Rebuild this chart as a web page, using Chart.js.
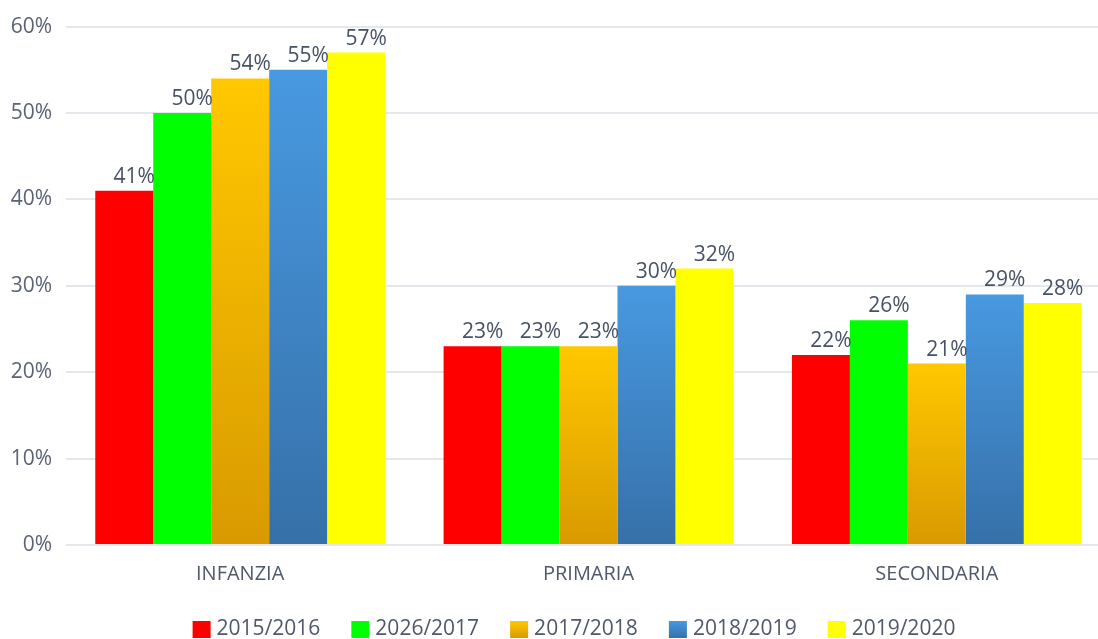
<!DOCTYPE html>
<html>
<head>
<meta charset="utf-8">
<script src="https://cdn.jsdelivr.net/npm/chart.js@4/dist/chart.umd.min.js"></script>
<style>
  html, body { margin: 0; padding: 0; background: #fff; overflow: hidden; }
  #wrap { width: 1111px; height: 639px; }
</style>
</head>
<body>
<div id="wrap"><canvas id="c" width="1111" height="639"></canvas></div>
<script>
const categories = ["INFANZIA", "PRIMARIA", "SECONDARIA"];
const seriesNames = ["2015/2016", "2026/2017", "2017/2018", "2018/2019", "2019/2020"];
const s2015 = [41, 23, 22];
const s2016 = [50, 23, 26];
const s2017 = [54, 23, 21];
const s2018 = [55, 30, 29];
const s2019 = [57, 32, 28];
const yTicks = [0, 10, 20, 30, 40, 50, 60];

const FONT = "'Open Sans', 'Noto Sans', sans-serif";
const topColors = ["#ff0000", "#00ff00", "#ffc800", "#4899e1", "#ffff00"];
const botColors = ["#ff0000", "#00ff00", "#d89a00", "#3670a8", "#ffff00"];

function barFill(i) {
  return function (ctx) {
    if (topColors[i] === botColors[i]) return topColors[i];
    const chart = ctx.chart;
    const y = chart.scales && chart.scales.y;
    if (!y || ctx.type !== 'data' || ctx.raw == null) return topColors[i];
    const yTop = y.getPixelForValue(ctx.raw);
    const yBot = y.getPixelForValue(0);
    if (!isFinite(yTop) || !isFinite(yBot) || yTop === yBot) return topColors[i];
    const g = chart.ctx.createLinearGradient(0, yTop, 0, yBot);
    g.addColorStop(0, topColors[i]);
    g.addColorStop(1, botColors[i]);
    return g;
  };
}

const dataArrays = [s2015, s2016, s2017, s2018, s2019];
const datasets = dataArrays.map((d, i) => ({
  label: seriesNames[i],
  data: d,
  backgroundColor: barFill(i),
  borderWidth: 0,
  categoryPercentage: 0.832,
  barPercentage: 1.0
}));

const valueLabels = {
  id: 'valueLabels',
  afterDatasetsDraw(chart) {
    const ctx = chart.ctx;
    ctx.save();
    ctx.font = "21px " + FONT;
    ctx.fillStyle = "#475264";
    ctx.textAlign = "center";
    ctx.textBaseline = "alphabetic";
    chart.data.datasets.forEach((ds, di) => {
      const meta = chart.getDatasetMeta(di);
      meta.data.forEach((bar, j) => {
        ctx.fillText(ds.data[j] + "%", bar.x + 10, bar.y - 8);
      });
    });
    ctx.restore();
  }
};

const bottomLegend = {
  id: 'bottomLegend',
  afterDraw(chart) {
    const ctx = chart.ctx;
    ctx.save();
    ctx.font = "21px " + FONT;
    const boxW = 18, boxH = 17, gapText = 6, gapItem = 31;
    const widths = seriesNames.map(n => ctx.measureText(n).width);
    let total = 0;
    widths.forEach((w, i) => { total += boxW + gapText + w + (i < widths.length - 1 ? gapItem : 0); });
    let x = 574 - total / 2;
    const cy = 629;
    seriesNames.forEach((name, i) => {
      const top = cy - boxH / 2 + 0.5;
      const g = ctx.createLinearGradient(0, top, 0, top + boxH);
      g.addColorStop(0, topColors[i]);
      g.addColorStop(1, botColors[i]);
      ctx.fillStyle = g;
      ctx.fillRect(x, top, boxW, boxH);
      ctx.fillStyle = "#4f596a";
      ctx.textAlign = "left";
      ctx.textBaseline = "middle";
      ctx.fillText(name, x + boxW + gapText, cy);
      x += boxW + gapText + widths[i] + gapItem;
    });
    ctx.restore();
  }
};

new Chart(document.getElementById('c'), {
  type: 'bar',
  data: { labels: categories, datasets: datasets },
  plugins: [valueLabels, bottomLegend],
  options: {
    responsive: false,
    animation: false,
    devicePixelRatio: 1,
    layout: { padding: { top: 22, left: 0, right: 0, bottom: 0 } },
    plugins: {
      tooltip: { enabled: false },
      legend: { display: false }
    },
    scales: {
      x: {
        grid: { display: false, drawTicks: false },
        border: { display: false },
        ticks: { color: "#4f596a", font: { family: FONT, size: 20 }, padding: 17 },
        afterFit(scale) { scale.height = 94; }
      },
      y: {
        min: 0,
        max: 60,
        afterBuildTicks(scale) { scale.ticks = yTicks.map(v => ({ value: v })); },
        grid: { color: "#e4e7ec", lineWidth: 2, drawTicks: false },
        border: { display: false },
        ticks: {
          color: "#5a6474",
          font: { family: FONT, size: 21 },
          padding: 14,
          callback: v => v + "%"
        },
        afterFit(scale) { scale.width = 66; }
      }
    }
  }
});
</script>
</body>
</html>
